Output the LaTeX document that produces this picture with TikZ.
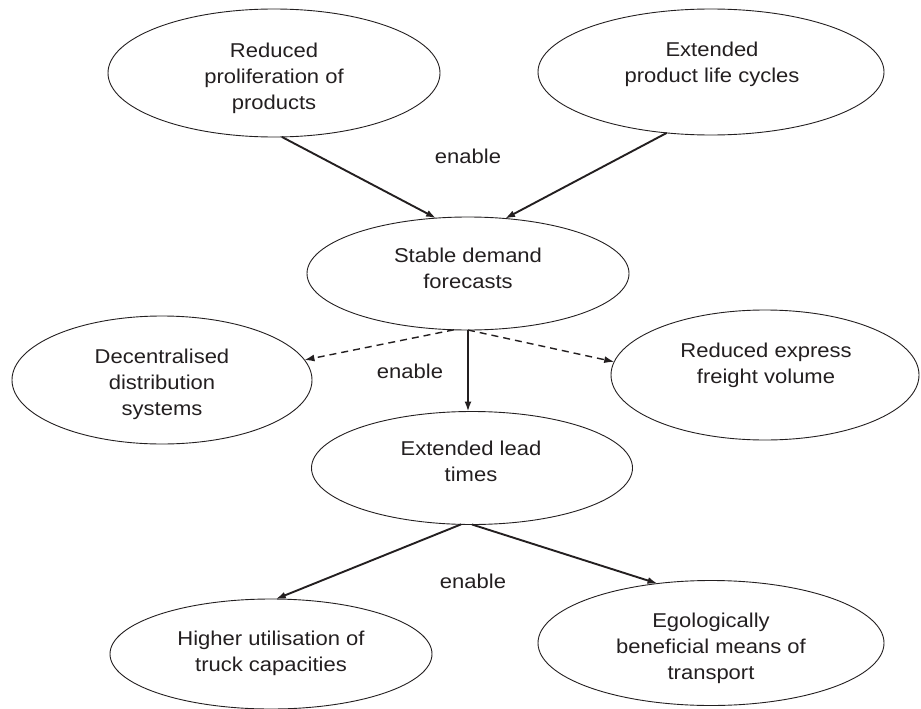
\documentclass[tikz,border=0pt]{standalone}
\usepackage{fontspec}
\setmainfont{Liberation Sans}[FakeStretch=1.1]
\usetikzlibrary{shapes.geometric,arrows.meta}
\definecolor{ink}{HTML}{231F20}
\tikzset{
  oval/.style={ellipse, draw=ink, line width=0.9pt, inner sep=0pt, outer sep=0pt},
  txt/.style={align=center, text=ink, font=\fontsize{20}{26}\selectfont, inner sep=0pt},
  arr/.style={draw=ink, line width=1.9pt, -{Latex[length=10pt,width=7pt]}},
  darr/.style={draw=ink, line width=1.4pt, dash pattern=on 7pt off 5pt, -{Latex[length=10pt,width=7pt]}},
}
\begin{document}
\begin{tikzpicture}[x=1pt,y=-1pt]
\useasboundingbox (0,0) rectangle (921,709);
% ellipses
\node[oval, minimum width=332pt, minimum height=128pt] (e1) at (274,73) {};
\node[oval, minimum width=346pt, minimum height=126pt] (e2) at (711,72) {};
\node[oval, minimum width=322pt, minimum height=113pt] (sd) at (468,273.5) {};
\node[oval, minimum width=300pt, minimum height=128pt] (dc) at (162,380) {};
\node[oval, minimum width=308pt, minimum height=130pt] (re) at (765,375) {};
\node[oval, minimum width=321pt, minimum height=113pt] (el) at (472,468) {};
\node[oval, minimum width=322pt, minimum height=110pt] (hu) at (271,654) {};
\node[oval, minimum width=346pt, minimum height=125pt] (eg) at (711,643) {};
% texts
\node[txt] (t1) at (274,78) {Reduced\\proliferation of\\products};
\node[txt] (t2) at (712,64) {Extended\\product life cycles};
\node[txt] (t3) at (468,268) {Stable demand\\forecasts};
\node[txt] (t4) at (162,384) {Decentralised\\distribution\\systems};
\node[txt] (t5) at (766,365) {Reduced express\\freight volume};
\node[txt] (t6) at (471,461) {Extended lead\\times};
\node[txt] (t7) at (271,653) {Higher utilisation of\\truck capacities};
\node[txt] (t8) at (711,648) {Egologically\\beneficial means of\\transport};
% labels
\node[txt, anchor=base] (l1) at (468,163) {enable};
\node[txt, anchor=base] (l2) at (410,378) {enable};
\node[txt, anchor=base] (l3) at (473,588) {enable};
% connectors
\draw[arr] (e1.-83) -- (sd.120.7);
\draw[arr] (e2.-126.7) -- (sd.56.5);
\draw[darr] (sd.-104.9) -- (dc.8.8);
\draw[darr] (sd.-90) -- (re.175.9);
\draw[arr] (sd.south) -- (sd.south |- el.north);
\draw[arr] (el.-101.5) -- (hu.85);
\draw[arr] (el.-90) -- (eg.132.6);
\end{tikzpicture}
\end{document}
